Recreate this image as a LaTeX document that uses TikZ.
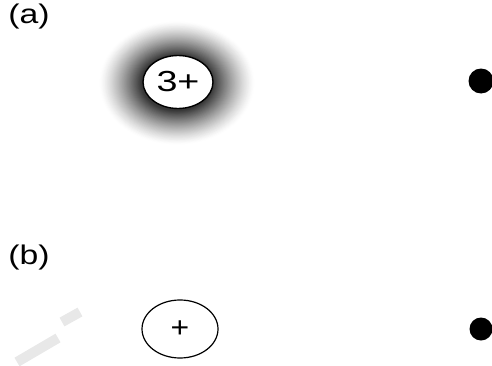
\documentclass[tikz,border=0pt]{standalone}
\usepackage{fontspec}
\setmainfont{Liberation Sans}
\usetikzlibrary{shapes.geometric}
\tikzset{
  lbl/.style={font=\fontsize{27}{30}\selectfont, inner sep=0pt},
  ion/.style={ellipse, draw=black, line width=1.4pt, fill=white, inner sep=0pt, font=\fontsize{29}{30}\selectfont},
  dotnode/.style={circle, fill=black, inner sep=0pt},
  wm/.style={draw=black!9, line width=10pt}
}
\begin{document}
\begin{tikzpicture}[x=1pt,y=1pt]
\useasboundingbox (0,0) rectangle (492,365);
% (a)
\node[lbl] (la) at (29,348) {\scalebox{1.25}[1]{(a)}};
\coordinate (hc) at (177,282);
\foreach \i in {0,...,48}{
  \pgfmathsetmacro{\t}{\i/48}
  \pgfmathsetmacro{\rx}{78-\t*42}
  \pgfmathsetmacro{\ry}{62-\t*34}
  \pgfmathsetmacro{\v}{78*(\t)^1.3}
  \fill[black!\v] (hc) ellipse [x radius=\rx, y radius=\ry];
}
\node[ion, minimum width=70pt, minimum height=53pt] (ion3) at (178,283) {\scalebox{1.3}[1]{3+}};
\node[dotnode, minimum size=25pt] (da) at (481,284) {};
% (b)
\node[lbl] (lb) at (29,107) {\scalebox{1.25}[1]{(b)}};
\node[ion, line width=1.2pt, minimum width=76pt, minimum height=58pt] (ion1) at (180,36) {\scalebox{1.1}[1]{+}};
\node[dotnode, minimum size=23pt] (db) at (481,36) {};
% faint watermark strokes
\coordinate (w1) at (62,43);
\coordinate (w2) at (80,53);
\coordinate (w3) at (17,3);
\coordinate (w4) at (58,27);
\draw[wm] (w1) -- (w2);
\draw[wm] (w3) -- (w4);
\end{tikzpicture}
\end{document}
